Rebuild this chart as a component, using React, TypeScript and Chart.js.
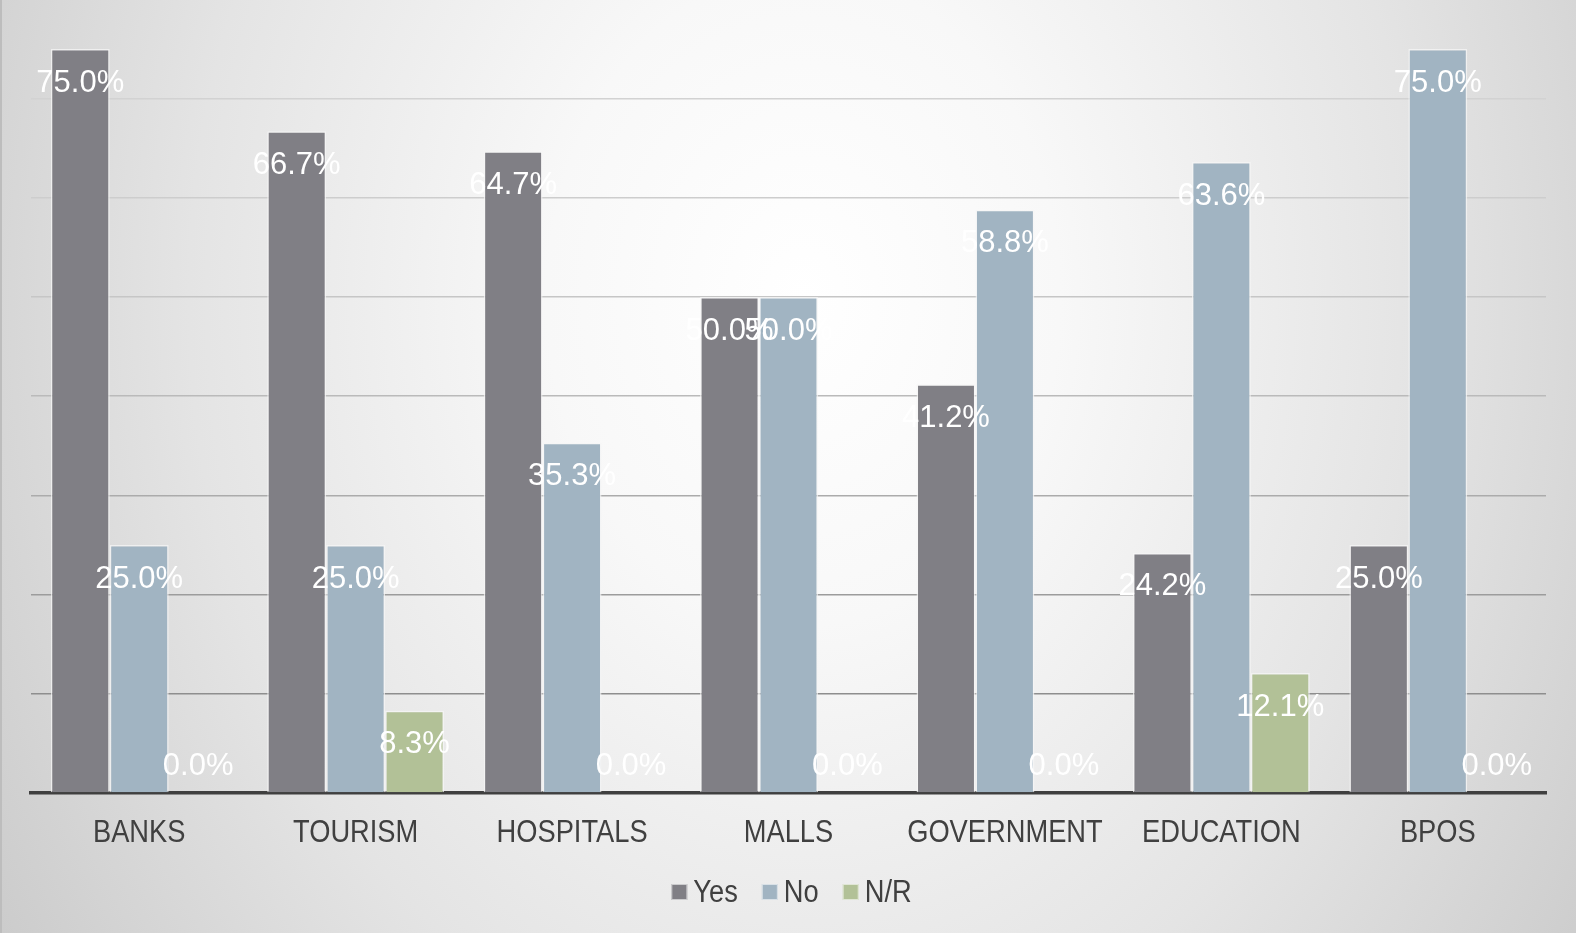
import React, { useEffect, useRef } from "react";
import { Chart, registerables } from "chart.js";

Chart.register(...registerables);

const categories = ["BANKS", "TOURISM", "HOSPITALS", "MALLS", "GOVERNMENT", "EDUCATION", "BPOS"];
const yesValues = [75.0, 66.7, 64.7, 50.0, 41.2, 24.2, 25.0];
const noValues = [25.0, 25.0, 35.3, 50.0, 58.8, 63.6, 75.0];
const nrValues = [0.0, 8.3, 0.0, 0.0, 0.0, 12.1, 0.0];
const seriesNames = ["Yes", "No", "N/R"];
const seriesColors = ["#807f85", "#a1b4c2", "#b2c197"];

const gridColors: Record<number, string> = {
  10: "#8e8e8e",
  20: "#9c9c9c",
  30: "#ababab",
  40: "#bababa",
  50: "#c6c6c6",
  60: "#cdcdcd",
  70: "#d2d2d2",
};

const TEXT_FONT = '31px "Liberation Sans", Arial, sans-serif';
const CONDENSE = 0.88;

const labelPlugin = {
  id: "barLabels",
  afterDatasetsDraw(chart: any) {
    const ctx = chart.ctx;
    ctx.save();
    ctx.font = TEXT_FONT;
    ctx.fillStyle = "#ffffff";
    ctx.textAlign = "center";
    ctx.textBaseline = "middle";
    chart.data.datasets.forEach((ds: any, i: number) => {
      const meta = chart.getDatasetMeta(i);
      meta.data.forEach((bar: any, j: number) => {
        const v = ds.data[j];
        const y = Math.min(bar.y + 34, bar.base - 27);
        ctx.fillText(v.toFixed(1) + "%", bar.x, y);
      });
    });
    ctx.restore();
  },
};

const axisLabelPlugin = {
  id: "condensedAxisLabels",
  afterDraw(chart: any) {
    const ctx = chart.ctx;
    const xScale = chart.scales.x;
    ctx.save();
    ctx.font = TEXT_FONT;
    ctx.fillStyle = "#404040";
    ctx.textAlign = "center";
    ctx.textBaseline = "middle";
    const y = xScale.top + 40;
    chart.data.labels.forEach((lab: string, i: number) => {
      const x = xScale.getPixelForTick(i);
      ctx.save();
      ctx.translate(x, y);
      ctx.scale(CONDENSE, 1);
      ctx.fillText(lab, 0, 0);
      ctx.restore();
    });
    ctx.restore();
  },
};

const legendPlugin = {
  id: "customLegend",
  afterDraw(chart: any) {
    const ctx = chart.ctx;
    ctx.save();
    ctx.font = TEXT_FONT;
    ctx.textBaseline = "middle";
    const box = 16;
    const gapText = 6;
    const gapItem = 24;
    const widths = seriesNames.map((n) => ctx.measureText(n).width * CONDENSE);
    const total = widths.reduce((a, w) => a + box + gapText + w, 0) + gapItem * (seriesNames.length - 1);
    const cx = (chart.chartArea.left + chart.chartArea.right) / 2 + 3;
    let x = cx - total / 2;
    const y = chart.scales.x.top + 99;
    seriesNames.forEach((n, i) => {
      ctx.fillStyle = seriesColors[i];
      ctx.fillRect(x, y - box / 2, box, box);
      ctx.strokeStyle = "rgba(255,255,255,0.6)";
      ctx.lineWidth = 1;
      ctx.strokeRect(x + 0.5, y - box / 2 + 0.5, box - 1, box - 1);
      ctx.fillStyle = "#404040";
      ctx.save();
      ctx.translate(x + box + gapText, y + 1);
      ctx.scale(CONDENSE, 1);
      ctx.fillText(n, 0, 0);
      ctx.restore();
      x += box + gapText + widths[i] + gapItem;
    });
    ctx.restore();
  },
};

export default function App() {
  const canvasRef = useRef<HTMLCanvasElement>(null);

  useEffect(() => {
    document.body.style.margin = "0";
    const seriesData = [yesValues, noValues, nrValues];
    const chart = new Chart(canvasRef.current as HTMLCanvasElement, {
      type: "bar",
      data: {
        labels: categories,
        datasets: seriesNames.map((name, i) => ({
          label: name,
          data: seriesData[i],
          backgroundColor: seriesColors[i],
          borderColor: "rgba(245,245,245,0.75)",
          borderWidth: 1.5,
          categoryPercentage: 0.817,
          barPercentage: 1.0,
        })),
      },
      options: {
        animation: false,
        responsive: true,
        maintainAspectRatio: false,
        layout: { padding: { left: 31, right: 30, top: 49, bottom: 0 } },
        plugins: {
          legend: { display: false },
          tooltip: { enabled: false },
        },
        scales: {
          x: {
            grid: { display: false, drawTicks: false },
            border: { display: true, color: "#3f3f3f", width: 3.5 },
            ticks: { display: false, autoSkip: false },
            afterFit(scale: any) {
              scale.height = 140;
            },
          },
          y: {
            min: 0,
            max: 75,
            ticks: { display: false, stepSize: 10 },
            border: { display: false },
            grid: {
              drawTicks: false,
              lineWidth: 1.5,
              color: (ctx: any) => {
                const v = ctx.tick ? ctx.tick.value : 0;
                return gridColors[v] || "rgba(0,0,0,0)";
              },
            },
            afterFit(scale: any) {
              scale.width = 0;
            },
          },
        },
      },
      plugins: [labelPlugin, axisLabelPlugin, legendPlugin],
    });
    return () => chart.destroy();
  }, []);

  return (
    <div
      style={{
        position: "fixed",
        left: 0,
        top: 0,
        width: 1576,
        height: 933,
        boxShadow: "inset 2px 0 0 #bdbdbd",
        background:
          "radial-gradient(ellipse 65% 140% at 51% 32%, #ffffff 0%, #f8f8f8 25%, #e4e4e4 60%, #c6c6c6 100%)",
      }}
    >
      <canvas ref={canvasRef} />
    </div>
  );
}
